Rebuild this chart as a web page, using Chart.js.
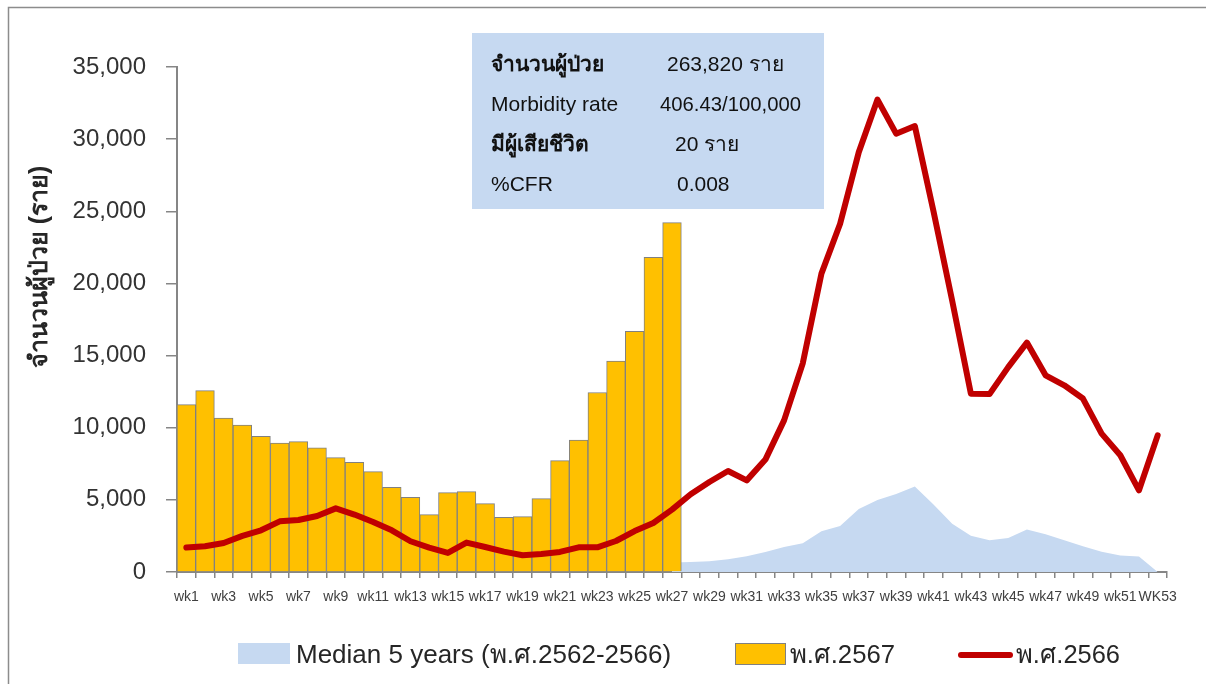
<!DOCTYPE html>
<html>
<head>
<meta charset="utf-8">
<script src="https://cdn.jsdelivr.net/npm/chart.js@4.4.1/dist/chart.umd.min.js"></script>
<style>
  html, body { margin: 0; padding: 0; background: #fff; }
  #wrap { width: 1206px; height: 684px; }
</style>
</head>
<body>
<div id="wrap"><canvas id="chart" width="1206" height="684"></canvas></div>
<script>
// weeks on the x axis
const weeks = [
  'wk1', 'wk2', 'wk3', 'wk4', 'wk5', 'wk6', 'wk7', 'wk8', 'wk9', 'wk10',
  'wk11', 'wk12', 'wk13', 'wk14', 'wk15', 'wk16', 'wk17', 'wk18', 'wk19', 'wk20',
  'wk21', 'wk22', 'wk23', 'wk24', 'wk25', 'wk26', 'wk27', 'wk28', 'wk29', 'wk30',
  'wk31', 'wk32', 'wk33', 'wk34', 'wk35', 'wk36', 'wk37', 'wk38', 'wk39', 'wk40',
  'wk41', 'wk42', 'wk43', 'wk44', 'wk45', 'wk46', 'wk47', 'wk48', 'wk49', 'wk50',
  'wk51', 'wk52', 'WK53',
];

// พ.ศ.2567 (bars, wk1 - wk27)
const cases2567 = [
  11600, 12570, 10670, 10190, 9400, 8940, 9040, 8600, 7930, 7600,
  6960, 5870, 5180, 3980, 5500, 5570, 4740, 3790, 3840, 5090,
  7720, 9150, 12440, 14620, 16680, 21810, 24210,
];

// พ.ศ.2566 (red line)
const cases2566 = [
  1690, 1780, 2010, 2500, 2890, 3510, 3600, 3880, 4410, 3980,
  3470, 2890, 2130, 1690, 1320, 2040, 1730, 1410, 1160, 1250,
  1390, 1710, 1710, 2150, 2840, 3400, 4320, 5390, 6240, 7000,
  6350, 7790, 10510, 14460, 20680, 24140, 29100, 32740, 30380, 30910,
  25000, 18800, 12360, 12330, 14200, 15900, 13630, 12940, 12020, 9590,
  8090, 5660, 9470,
];

// Median 5 years (area) - hidden behind the bars before wk27
const median5y = [
  null, null, null, null, null, null, null, null, null, null,
  null, null, null, null, null, null, null, null, null, null,
  null, null, null, null, null, null, 650, 700, 750, 880,
  1090, 1390, 1730, 1990, 2820, 3190, 4370, 4990, 5400, 5920,
  4670, 3350, 2520, 2200, 2360, 2940, 2610, 2200, 1780, 1410,
  1140, 1070, 0,
];

const yTicks = [0, 5000, 10000, 15000, 20000, 25000, 30000, 35000];

const infoRows = [
  ['จำนวนผู้ป่วย', '263,820 ราย'],
  ['Morbidity rate', '406.43/100,000'],
  ['มีผู้เสียชีวิต', '20 ราย'],
  ['%CFR', '0.008'],
];

const FONT = 'Tahoma, "Liberation Sans", "Noto Sans", sans-serif';
const AXIS_GRAY = '#868686';
const TEXT_DARK = '#262626';

function fitText(ctx, text, x, y, maxW) {
  const w = ctx.measureText(text).width;
  const s = w > maxW ? maxW / w : 1;
  ctx.save();
  ctx.translate(x, y);
  ctx.scale(s, 1);
  ctx.fillText(text, 0, 0);
  ctx.restore();
}

const decorations = {
  id: 'decorations',
  beforeDraw(chart) {
    const { ctx } = chart;
    ctx.save();
    ctx.strokeStyle = '#8c8c8c';
    ctx.lineWidth = 1.5;
    ctx.beginPath();
    ctx.moveTo(8.5, 684);
    ctx.lineTo(8.5, 7.5);
    ctx.lineTo(1206, 7.5);
    ctx.stroke();
    ctx.restore();
  },
  afterDraw(chart) {
    const { ctx } = chart;
    ctx.save();

    // y axis title
    ctx.translate(40, 267);
    ctx.rotate(-Math.PI / 2);
    ctx.fillStyle = TEXT_DARK;
    ctx.font = 'bold 25px ' + FONT;
    ctx.textAlign = 'center';
    ctx.textBaseline = 'middle';
    fitText(ctx, 'จำนวนผู้ป่วย (ราย)', 0, 0, 205);
    ctx.restore();

    // info box
    ctx.save();
    ctx.fillStyle = '#C6D9F1';
    ctx.fillRect(472, 33, 352, 176);
    ctx.fillStyle = '#111';
    ctx.textBaseline = 'middle';
    const valueX = [667, 660, 675, 677];
    infoRows.forEach((row, i) => {
      const y = 65 + i * 40;
      ctx.font = (i === 0 || i === 2 ? 'bold ' : '') + '21px ' + FONT;
      fitText(ctx, row[0], 491, y, 135);
      ctx.font = '21px ' + FONT;
      fitText(ctx, row[1], valueX[i], y, 141);
    });
    ctx.restore();

    // legend
    ctx.save();
    ctx.fillStyle = '#C6D9F1';
    ctx.fillRect(238, 643, 52, 21);
    ctx.fillStyle = '#FFC000';
    ctx.fillRect(735, 643, 50, 21);
    ctx.strokeStyle = '#808080';
    ctx.lineWidth = 1;
    ctx.strokeRect(735.5, 643.5, 50, 21);
    ctx.strokeStyle = '#C00000';
    ctx.lineWidth = 6;
    ctx.lineCap = 'round';
    ctx.beginPath();
    ctx.moveTo(961, 655);
    ctx.lineTo(1010, 655);
    ctx.stroke();
    ctx.fillStyle = TEXT_DARK;
    ctx.font = '26px ' + FONT;
    ctx.textBaseline = 'middle';
    fitText(ctx, 'Median 5 years (พ.ศ.2562-2566)', 296, 656, 376);
    fitText(ctx, 'พ.ศ.2567', 790, 656, 105);
    fitText(ctx, 'พ.ศ.2566', 1016, 656, 104);
    ctx.restore();
  },
};

const ctx = document.getElementById('chart').getContext('2d');
new Chart(ctx, {
  data: {
    labels: weeks,
    datasets: [
      {
        type: 'line',
        label: 'พ.ศ.2566',
        data: cases2566,
        borderColor: '#C00000',
        borderWidth: 6,
        pointRadius: 0,
        tension: 0,
        borderJoinStyle: 'round',
        borderCapStyle: 'round',
        order: 1,
      },
      {
        type: 'bar',
        label: 'พ.ศ.2567',
        data: cases2567,
        backgroundColor: '#FFC000',
        borderColor: '#808080',
        borderWidth: 1,
        categoryPercentage: 1,
        barPercentage: 1,
        order: 2,
      },
      {
        type: 'line',
        label: 'Median 5 years (พ.ศ.2562-2566)',
        data: median5y,
        backgroundColor: '#C6D9F1',
        borderWidth: 0,
        pointRadius: 0,
        fill: 'origin',
        tension: 0,
        order: 3,
      },
    ],
  },
  options: {
    responsive: false,
    animation: false,
    devicePixelRatio: 1,
    layout: { padding: { left: 20, right: 39, top: 67, bottom: 72 } },
    plugins: {
      legend: { display: false },
      tooltip: { enabled: false },
    },
    scales: {
      x: {
        type: 'category',
        offset: true,
        afterFit(scale) { scale.height = 40; },
        border: { color: AXIS_GRAY, width: 2 },
        grid: {
          offset: true,
          drawOnChartArea: false,
          drawTicks: true,
          tickLength: 6,
          color: AXIS_GRAY,
          lineWidth: 1.5,
        },
        ticks: {
          autoSkip: false,
          maxRotation: 0,
          padding: 11,
          color: '#404040',
          font: { family: FONT, size: 14 },
          callback(value, index) {
            return index % 2 === 0 ? weeks[index] : '';
          },
        },
      },
      y: {
        min: 0,
        max: 35000,
        afterFit(scale) { scale.width = 157; },
        afterBuildTicks(scale) {
          scale.ticks = yTicks.map((v) => ({ value: v }));
        },
        border: { color: AXIS_GRAY, width: 2 },
        grid: {
          drawOnChartArea: false,
          tickLength: 11,
          color: AXIS_GRAY,
          lineWidth: 1.5,
        },
        ticks: {
          padding: 20,
          color: '#333',
          font: { family: FONT, size: 24 },
          callback(value) {
            return value.toLocaleString('en-US');
          },
        },
      },
    },
  },
  plugins: [decorations],
});
</script>
</body>
</html>
